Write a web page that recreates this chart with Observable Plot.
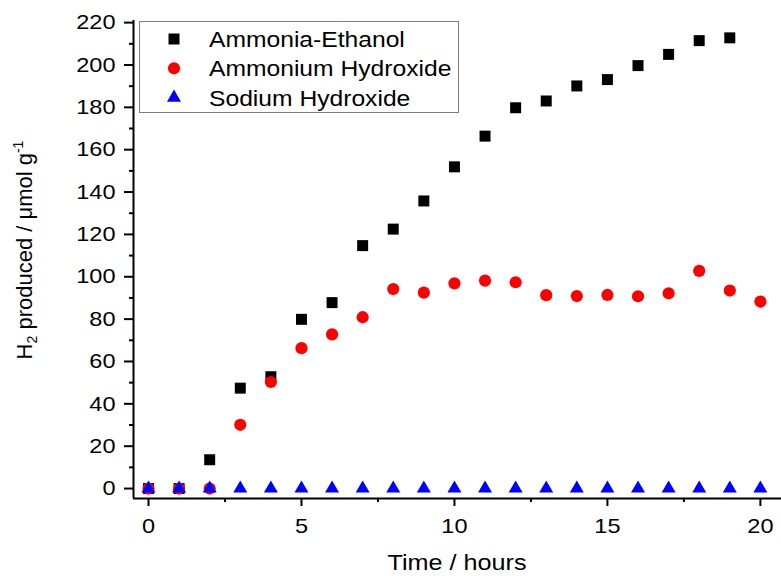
<!DOCTYPE html>
<html>
<head>
<meta charset="utf-8">
<script src="https://cdn.jsdelivr.net/npm/d3@7"></script>
<script src="https://cdn.jsdelivr.net/npm/@observablehq/plot@0.6"></script>
<style>
  html, body { margin: 0; padding: 0; background: #fff; }
  #chart { width: 781px; height: 576px; overflow: hidden; }
</style>
</head>
<body>
<div id="chart"></div>
<script>
// Hydrogen evolution over time for three reaction media
const hours = [0, 1, 2, 3, 4, 5, 6, 7, 8, 9, 10, 11, 12, 13, 14, 15, 16, 17, 18, 19, 20];
const ammoniaEthanol = [0, 0, 13.6, 47.4, 52.8, 79.9, 87.8, 114.7, 122.5, 135.8, 151.9, 166.4, 179.8, 183.0, 190.1, 193.1, 199.7, 205.0, 211.5, 212.8];
const ammoniumHydroxide = [0, 0, 0, 30.1, 50.3, 66.3, 72.8, 80.9, 94.2, 92.5, 96.9, 98.2, 97.4, 91.3, 90.9, 91.4, 90.8, 92.2, 102.8, 93.5, 88.3];
const sodiumHydroxide = [0, 0, 0, 0, 0, 0, 0, 0, 0, 0, 0, 0, 0, 0, 0, 0, 0, 0, 0, 0, 0];

const seriesNames = ["Ammonia-Ethanol", "Ammonium Hydroxide", "Sodium Hydroxide"];
const seriesColors = ["#000000", "#ff0000", "#0000ff"];
const seriesSymbols = ["square", "circle", "triangle"];
const seriesValues = [ammoniaEthanol, ammoniumHydroxide, sodiumHydroxide];

const xMajorTicks = [0, 5, 10, 15, 20];
const xMinorTicks = [2.5, 7.5, 12.5, 17.5];
const yMajorTicks = [0, 20, 40, 60, 80, 100, 120, 140, 160, 180, 200, 220];
const yMinorTicks = [10, 30, 50, 70, 90, 110, 130, 150, 170, 190, 210];
const xDomain = [-0.49, 20.69];
const yDomain = [-4.7, 221];

const xTitle = "Time / hours";

// long-format rows, one per measurement
const rows = seriesValues.flatMap((vals, s) =>
  vals.map((v, i) => ({ hour: hours[i], value: v, series: s }))
);

const symbolRadius = { square: 6.2, circle: 6.1, triangle: 5.2 };

const chart = Plot.plot({
  width: 781,
  height: 576,
  marginLeft: 133,
  marginRight: 0,
  marginTop: 20,
  marginBottom: 78,
  x: { domain: xDomain },
  y: { domain: yDomain },
  style: {
    fontFamily: "'Liberation Sans', Arial, sans-serif",
    fontSize: "21px",
    color: "#000",
    background: "#fff"
  },
  marks: [
    Plot.axisX({ ticks: xMajorTicks, tickSize: 8, tickPadding: 12, strokeWidth: 2, label: null, tickFormat: d => String(d) }),
    Plot.axisX({ ticks: xMinorTicks, tickSize: 4, strokeWidth: 2, label: null, tickFormat: () => "" }),
    Plot.axisY({ ticks: yMajorTicks, tickSize: 9, tickPadding: 9, strokeWidth: 2, label: null, tickFormat: d => String(d) }),
    Plot.axisY({ ticks: yMinorTicks, tickSize: 4, strokeWidth: 2, label: null, tickFormat: () => "" }),
    Plot.ruleX([xDomain[0]], { stroke: "#000", strokeWidth: 2 }),
    Plot.ruleY([yDomain[0]], { stroke: "#000", strokeWidth: 2 }),
    ...seriesNames.map((name, s) =>
      Plot.dot(rows.filter(d => d.series === s), {
        x: "hour",
        y: "value",
        symbol: () => seriesSymbols[s],
        r: symbolRadius[seriesSymbols[s]],
        fill: seriesColors[s],
        stroke: "none"
      })
    )
  ]
});

document.getElementById("chart").appendChild(chart);

const svg = d3.select(chart);
const fontFamily = "'Liberation Sans', Arial, sans-serif";

// x axis title
svg.append("text")
  .attr("class", "stretch")
  .attr("x", 457)
  .attr("y", 570)
  .attr("text-anchor", "middle")
  .attr("font-family", fontFamily)
  .attr("font-size", 22.5)
  .attr("fill", "#000")
  .text(xTitle);

// y axis title with subscript and superscript
const yTitle = svg.append("text")
  .attr("transform", "translate(32,250) rotate(-90)")
  .attr("text-anchor", "middle")
  .attr("font-family", fontFamily)
  .attr("font-size", 22)
  .attr("fill", "#000");
yTitle.append("tspan").text("H");
yTitle.append("tspan").attr("dy", 5).attr("font-size", 14).text("2");
yTitle.append("tspan").attr("dy", -5).text(" produced / μmol g");
yTitle.append("tspan").attr("dy", -9).attr("font-size", 14).text("-1");

// legend box
const legend = svg.append("g");
legend.append("rect")
  .attr("x", 139.5).attr("y", 21.5)
  .attr("width", 319).attr("height", 91)
  .attr("fill", "#fff")
  .attr("stroke", "#7f7f7f")
  .attr("stroke-width", 1);

const symbolTypes = { square: d3.symbolSquare, circle: d3.symbolCircle, triangle: d3.symbolTriangle };
const rowY = [39, 68.3, 97.7];
seriesNames.forEach((name, s) => {
  const r = symbolRadius[seriesSymbols[s]];
  legend.append("path")
    .attr("transform", `translate(174,${rowY[s]})`)
    .attr("d", d3.symbol(symbolTypes[seriesSymbols[s]], Math.PI * r * r)())
    .attr("fill", seriesColors[s]);
  legend.append("text")
    .attr("class", "stretch")
    .attr("x", 209)
    .attr("y", rowY[s])
    .attr("dy", "0.36em")
    .attr("text-anchor", "start")
    .attr("font-family", fontFamily)
    .attr("font-size", 22)
    .attr("fill", "#000")
    .text(name);
});

// widen horizontal text slightly to the wide face of the original figure
const widen = 1.12;
svg.selectAll("g[aria-label$='tick label'] text, text.stretch").each(function () {
  if (!this.textContent) return;
  const w = this.getComputedTextLength();
  if (w > 0) {
    this.setAttribute("textLength", (w * widen).toFixed(2));
    this.setAttribute("lengthAdjust", "spacingAndGlyphs");
  }
});
</script>
</body>
</html>
